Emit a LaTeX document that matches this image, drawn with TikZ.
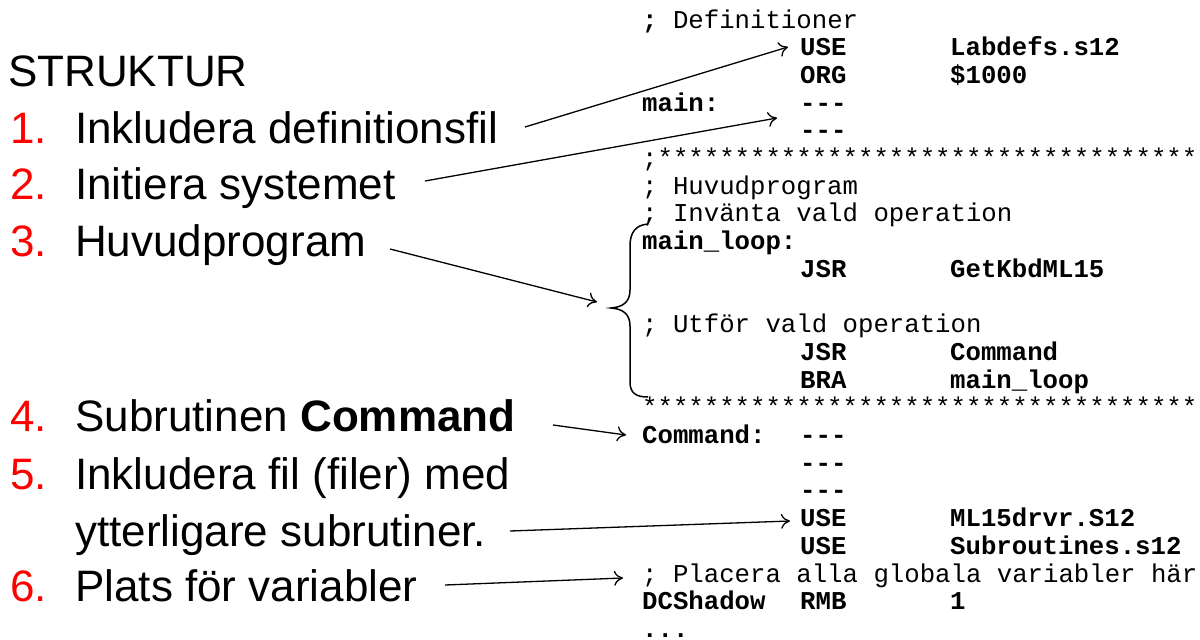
\documentclass[tikz,border=0pt]{standalone}
\usepackage{fontspec}
\setmainfont{Liberation Sans}
\newfontfamily\codefont{Liberation Mono}
\usetikzlibrary{arrows.meta}

\begin{document}
\begin{tikzpicture}[x=1pt,y=-1pt,
  item/.style={anchor=base west, inner sep=0pt, font=\fontsize{44}{44}\selectfont},
  num/.style={item, text=red},
  code/.style={anchor=base west, inner sep=0pt, font=\codefont\fontsize{25.7}{26}\selectfont},
  bcode/.style={code, font=\codefont\bfseries\fontsize{25.7}{26}\selectfont},
  ptr/.style={-{To[length=9pt,width=15pt]}, line width=1.3pt},
  brace/.style={line width=1.5pt}
]
\useasboundingbox (0,0) rectangle (1200,640);

% ---------- left column: outline ----------
\node[item] (title) at (8,86) {STRUKTUR};
\node[num] (n1) at (10,143) {1.};
\node[item] (i1) at (75,143) {Inkludera definitionsfil};
\node[num] (n2) at (10,199) {2.};
\node[item] (i2) at (75,199) {Initiera systemet};
\node[num] (n3) at (10,256) {3.};
\node[item] (i3) at (75,256) {Huvudprogram};
\node[num] (n4) at (10,431) {4.};
\node[item] (i4) at (75,431) {Subrutinen \textbf{Command}};
\node[num] (n5) at (10,489) {5.};
\node[item] (i5) at (75,489) {Inkludera fil (filer) med};
\node[item] (i5b) at (75,546) {ytterligare subrutiner.};
\node[num] (n6) at (10,601) {6.};
\node[item] (i6) at (75,601) {Plats för variabler};

% ---------- right column: assembler listing ----------
\def\cA{642}\def\cB{800}\def\cC{950}
\newcommand\ly[1]{{28+27.7*#1}}
\node[code]  (l0)  at (\cA,\ly{0}) {\textbf{;} Definitioner};
\node[bcode] (l1b) at (\cB,\ly{1}) {USE};
\node[bcode] (l1c) at (\cC,\ly{1}) {Labdefs.s12};
\node[bcode] (l2b) at (\cB,\ly{2}) {ORG};
\node[bcode] (l2c) at (\cC,\ly{2}) {\$1000};
\node[bcode] (l3a) at (\cA,\ly{3}) {main:};
\node[bcode] (l3b) at (\cB,\ly{3}) {---};
\node[bcode] (l4b) at (\cB,\ly{4}) {---};
\node[code]  (l5)  at (\cA,\ly{5}) {;***********************************};
\node[code]  (l6)  at (\cA,\ly{6}) {; Huvudprogram};
\node[code]  (l7)  at (\cA,\ly{7}) {; Invänta vald operation};
\node[bcode] (l8a) at (\cA,\ly{8}) {main\_loop:};
\node[bcode] (l9b) at (\cB,\ly{9}) {JSR};
\node[bcode] (l9c) at (\cC,\ly{9}) {GetKbdML15};
\node[code]  (l11) at (\cA,\ly{11}) {; Utför vald operation};
\node[bcode] (l12b) at (\cB,\ly{12}) {JSR};
\node[bcode] (l12c) at (\cC,\ly{12}) {Command};
\node[bcode] (l13b) at (\cB,\ly{13}) {BRA};
\node[bcode] (l13c) at (\cC,\ly{13}) {main\_loop};
\node[code]  (l14) at (\cA,\ly{14}) {************************************};
\node[bcode] (l15a) at (\cA,\ly{15}) {Command:};
\node[bcode] (l15b) at (\cB,\ly{15}) {---};
\node[bcode] (l16b) at (\cB,\ly{16}) {---};
\node[bcode] (l17b) at (\cB,\ly{17}) {---};
\node[bcode] (l18b) at (\cB,\ly{18}) {USE};
\node[bcode] (l18c) at (\cC,\ly{18}) {ML15drvr.S12};
\node[bcode] (l19b) at (\cB,\ly{19}) {USE};
\node[bcode] (l19c) at (\cC,\ly{19}) {Subroutines.s12};
\node[code]  (l20) at (\cA,\ly{20}) {; Placera alla globala variabler här};
\node[bcode] (l21a) at (\cA,\ly{21}) {DCShadow};
\node[bcode] (l21b) at (\cB,\ly{21}) {RMB};
\node[bcode] (l21c) at (\cC,\ly{21}) {1};
\node[bcode] (l22a) at (\cA,\ly{22}) {...};

% ---------- brace around the main loop ----------
\draw[brace] (648,224) .. controls (636,225) and (630,232) .. (630,246)
  -- (630,290) .. controls (630,302) and (623,307) .. (611,308)
  .. controls (623,309) and (630,314) .. (630,326)
  -- (630,382) .. controls (630,393) and (636,397) .. (648,397);

% ---------- connector end points ----------
\coordinate (t1) at (525,127); \coordinate (h1) at (788,47);
\coordinate (t2) at (425,181); \coordinate (h2) at (777,118);
\coordinate (t3) at (390,249); \coordinate (h3) at (597,302);
\coordinate (t4) at (553,425); \coordinate (h4) at (626,435);
\coordinate (t5) at (510,531); \coordinate (h5) at (790,521);
\coordinate (t6) at (445,585); \coordinate (h6) at (623,578);

\draw[ptr] (t1) -- (h1);
\draw[ptr] (t2) -- (h2);
\draw[ptr] (t3) -- (h3);
\draw[ptr] (t4) -- (h4);
\draw[ptr] (t5) -- (h5);
\draw[ptr] (t6) -- (h6);
\end{tikzpicture}
\end{document}
